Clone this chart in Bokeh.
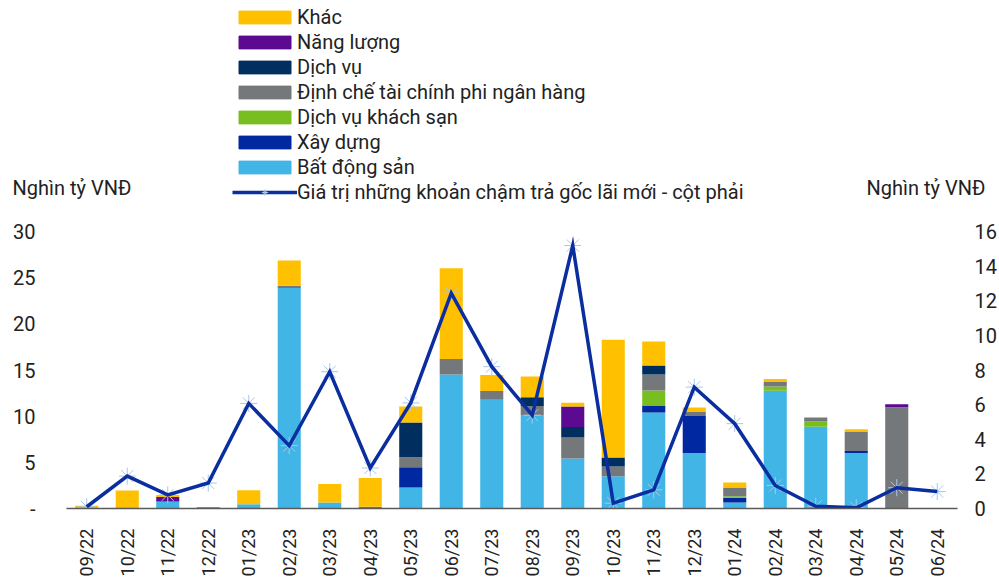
import math
from bokeh.plotting import figure
from bokeh.layouts import column
from bokeh.models import (Range1d, FactorRange, LinearAxis, FixedTicker, Legend, LegendItem, Label,
                          ColumnDataSource)
from bokeh.embed import file_html
from bokeh.resources import INLINE

months = ["09/22", "10/22", "11/22", "12/22", "01/23", "02/23", "03/23", "04/23", "05/23",
          "06/23", "07/23", "08/23", "09/23", "10/23", "11/23", "12/23", "01/24", "02/24",
          "03/24", "04/24", "05/24", "06/24"]

bat_dong_san = [0, 0, 0.7, 0, 0.47, 23.87, 0.65, 0, 2.27, 14.52, 11.78, 10.08, 5.42, 3.5, 10.4, 6.0, 0.65, 12.75, 8.85, 6.0, 0, 0]
xay_dung = [0, 0, 0, 0.12, 0, 0, 0, 0, 2.2, 0, 0, 0, 0, 0, 0.76, 4.01, 0.51, 0, 0, 0.22, 0, 0]
dv_khach_san = [0, 0, 0, 0, 0, 0, 0, 0, 0, 0, 0, 0, 0, 0, 1.62, 0, 0.17, 0.47, 0.58, 0, 0, 0]
dinh_che = [0.05, 0.1, 0.1, 0, 0, 0.25, 0, 0.2, 1.08, 1.66, 0.94, 1.01, 2.28, 1.05, 1.73, 0.43, 0.94, 0.47, 0.43, 2.13, 10.97, 0]
dich_vu = [0, 0, 0, 0, 0, 0, 0, 0, 3.76, 0, 0, 0.97, 1.12, 0.97, 0.97, 0, 0, 0, 0, 0, 0, 0]
nang_luong = [0, 0, 0.45, 0, 0, 0, 0, 0, 0, 0, 0, 0, 2.24, 0, 0, 0, 0, 0, 0, 0, 0.33, 0]
khac = [0.25, 1.85, 0.2, 0, 1.5, 2.75, 2.0, 3.1, 1.73, 9.83, 1.73, 2.24, 0.4, 12.75, 2.6, 0.5, 0.54, 0.33, 0, 0.22, 0, 0]

cham_tra = [0.1, 1.87, 0.79, 1.47, 6.07, 3.63, 7.9, 2.34, 6.1, 12.44, 8.19, 5.39, 15.19, 0.31, 1.08, 7.01, 4.9, 1.33, 0.13, 0.04, 1.2, 0.98]

left_ticks = [0, 5, 10, 15, 20, 25, 30]
right_ticks = [0, 2, 4, 6, 8, 10, 12, 14, 16]

series_keys = ["bds", "xd", "ks", "dc", "dv", "nl", "khac"]
series_values = [bat_dong_san, xay_dung, dv_khach_san, dinh_che, dich_vu, nang_luong, khac]
series_names = ["Bất động sản", "Xây dựng", "Dịch vụ khách sạn", "Định chế tài chính phi ngân hàng",
                "Dịch vụ", "Năng lượng", "Khác"]
series_colors = ["#41B6E6", "#0028A0", "#78BE20", "#75787B", "#002F5F", "#5B0A91", "#FFC000"]
line_name = "Giá trị những khoản chậm trả gốc lãi mới - cột phải"
axis_title = "Nghìn tỷ VNĐ"

FONT = "Roboto"
TXT = "#222222"
LINE_COLOR = "#0A2EA0"
MARK_COLOR = "#A9C7EC"

data = dict(month=months, line=cham_tra)
for k, v in zip(series_keys, series_values):
    data[k] = v

# ---------------- header (legend + axis titles) ----------------
W = 999
HEAD_H = 219
head = figure(width=W, height=HEAD_H, x_range=Range1d(0, W), y_range=Range1d(HEAD_H, 0),
              output_backend="svg", toolbar_location=None, x_axis_type=None, y_axis_type=None,
              min_border=0, outline_line_color=None)
head.xgrid.grid_line_color = None
head.ygrid.grid_line_color = None

# hidden stand-in renderers that only supply the legend swatches
idx = list(range(len(months)))
leg_items = []
for i in range(6, -1, -1):
    src = ColumnDataSource(dict(x=idx, y=series_values[i]))
    r = head.vbar(x="x", top="y", width=1, color=series_colors[i], source=src, visible=False)
    leg_items.append(LegendItem(label=series_names[i], renderers=[r]))
lsrc = ColumnDataSource(dict(x=idx, y=cham_tra))
lm = head.scatter(x="x", y="y", marker="asterisk", size=14, line_color=MARK_COLOR, line_width=1,
                  source=lsrc, visible=False)
ll = head.line(x="x", y="y", line_color=LINE_COLOR, line_width=3.5, source=lsrc, visible=False)
leg_items.append(LegendItem(label=line_name, renderers=[ll, lm]))

legend = Legend(items=leg_items, location=(232, 15), orientation="vertical",
                border_line_color=None, background_fill_alpha=0, padding=0, margin=0,
                spacing=1, glyph_width=65, glyph_height=16, label_standoff=0,
                label_height=20, label_text_font=FONT, label_text_font_size="20px",
                label_text_color=TXT, inactive_fill_alpha=0)
head.add_layout(legend, "center")

head.add_layout(Label(x=12, y=187, text=axis_title, text_baseline="middle", text_align="left",
                      text_font=FONT, text_font_size="20px", text_color=TXT))
head.add_layout(Label(x=866, y=187, text=axis_title, text_baseline="middle", text_align="left",
                      text_font=FONT, text_font_size="20px", text_color=TXT))

# ---------------- main chart ----------------
p = figure(x_range=FactorRange(*months, range_padding=0), y_range=Range1d(0, 30),
           width=W, height=584 - HEAD_H, output_backend="svg", toolbar_location=None,
           min_border_left=66, min_border_right=40, min_border_top=12, min_border_bottom=76)
p.extra_y_ranges = {"right": Range1d(0, 16)}
p.outline_line_color = None
p.xgrid.grid_line_color = None
p.ygrid.grid_line_color = None

if "frame_align" in p.properties():
    p.frame_align = False
    head.frame_align = False

bars = p.vbar_stack(series_keys, x="month", width=0.57, color=series_colors,
                    line_color=None, source=data)

pts = p.scatter("month", "line", source=data, y_range_name="right", marker="asterisk",
                size=17, line_color=MARK_COLOR, line_width=1)
ln = p.line("month", "line", source=data, y_range_name="right", line_color=LINE_COLOR,
            line_width=3.5, line_join="miter")

yl = p.yaxis[0]
yl.ticker = FixedTicker(ticks=left_ticks)
yl.major_label_overrides = {0: "-"}
yl.axis_line_color = None
yl.major_tick_line_color = None
yl.minor_tick_line_color = None
yl.major_label_standoff = 25
yl.major_label_text_font = FONT
yl.major_label_text_font_size = "20px"
yl.major_label_text_color = TXT

yr = LinearAxis(y_range_name="right", ticker=FixedTicker(ticks=right_ticks))
yr.axis_line_color = None
yr.major_tick_line_color = None
yr.minor_tick_line_color = None
yr.major_label_standoff = 11
yr.major_label_text_font = FONT
yr.major_label_text_font_size = "20px"
yr.major_label_text_color = TXT
p.add_layout(yr, "right")

xa = p.xaxis[0]
xa.axis_line_color = "#5A5A5A"
xa.axis_line_width = 1.5
xa.major_tick_line_color = None
xa.minor_tick_line_color = None
xa.major_label_orientation = math.pi / 2
xa.major_label_standoff = 14
xa.major_label_text_font = FONT
xa.major_label_text_font_size = "18px"
xa.major_label_text_color = TXT

layout = column(head, p, spacing=0)
open("out.html", "w").write(file_html(layout, INLINE))
